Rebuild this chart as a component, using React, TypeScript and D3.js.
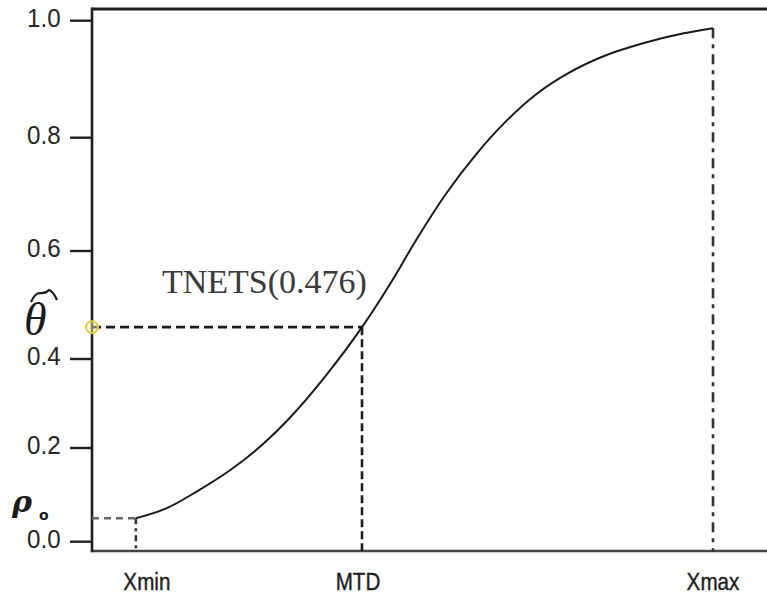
import React, { useEffect, useRef } from 'react';
import * as d3 from 'd3';

// dose axis runs 0..100 (only the marked doses are labelled)
const doseMarks = ['Xmin', 'MTD', 'Xmax'];
const doseValues = [6.5, 40, 92];
const rho0 = 0.05;
const thetaHat = 0.459;
const tnetsLabel = 'TNETS(0.476)';

const yTicks = [0.0, 0.2, 0.4, 0.6, 0.8, 1.0];
const yTickLabels = ['0.0', '0.2', '0.4', '0.6', '0.8', '1.0'];

// toxicity curve
const curveX = [6.5, 11, 15.5, 20.5, 25.5, 29, 34.5, 40, 44.5, 48, 52.5, 57, 61.5, 66, 70.5, 75.5, 81.5, 87.5, 92];
const curveY = [0.05, 0.071, 0.107, 0.153, 0.211, 0.263, 0.36, 0.459, 0.546, 0.619, 0.702, 0.772, 0.83, 0.876, 0.91, 0.938, 0.961, 0.978, 0.987];

const App = () => {
  const svgRef = useRef(null);

  useEffect(() => {
    const width = 767;
    const height = 598;
    const svg = d3.select(svgRef.current);
    svg.selectAll('*').remove();
    svg.attr('width', width).attr('height', height);

    const x = d3.scaleLinear().domain([0, 100]).range([92, 767]);
    // the printed axis is not evenly spaced, so a piecewise scale
    const y = d3.scaleLinear().domain(yTicks).range([541.7, 448, 359, 251, 137.7, 20.7]);

    const x0 = x(0);
    const yBottom = 551;
    const yTop = 9;
    const sans = 'Liberation Sans, Arial, sans-serif';

    svg.append('rect').attr('width', width).attr('height', height).attr('fill', '#fff');

    // frame
    svg.append('line').attr('x1', x0).attr('x2', width).attr('y1', yTop).attr('y2', yTop)
      .attr('stroke', '#1e1e1e').attr('stroke-width', 3);
    svg.append('line').attr('x1', x0).attr('x2', width).attr('y1', yBottom).attr('y2', yBottom)
      .attr('stroke', '#444').attr('stroke-width', 2.6);
    svg.append('line').attr('x1', x0).attr('x2', x0).attr('y1', yTop - 1.5).attr('y2', yBottom + 1.3)
      .attr('stroke', '#1e1e1e').attr('stroke-width', 2.6);

    // y ticks
    const tick = svg.append('g').selectAll('g').data(yTicks).enter().append('g');
    tick.append('line')
      .attr('x1', x0 - 22).attr('x2', x0).attr('y1', (d) => y(d)).attr('y2', (d) => y(d))
      .attr('stroke', '#222').attr('stroke-width', 2.4);
    tick.append('text')
      .attr('x', 27).attr('y', (d) => y(d) - 3).attr('dy', '0.35em')
      .attr('font-family', sans).attr('font-size', 26)
      .attr('fill', '#262626')
      .attr('transform', (d) => `translate(27,0) scale(0.93,1) translate(-27,0)`)
      .text((d, i) => yTickLabels[i]);

    const dark = '#1a1a1a';

    // theta-hat guide
    svg.append('line').attr('x1', x0).attr('x2', x(doseValues[1])).attr('y1', y(thetaHat)).attr('y2', y(thetaHat))
      .attr('stroke', dark).attr('stroke-width', 2.6).attr('stroke-dasharray', '9,5');
    svg.append('line').attr('x1', x(doseValues[1])).attr('x2', x(doseValues[1])).attr('y1', y(thetaHat)).attr('y2', yBottom)
      .attr('stroke', dark).attr('stroke-width', 2.6).attr('stroke-dasharray', '8,4');

    // rho0 / Xmin guide
    svg.append('line').attr('x1', x0).attr('x2', x(doseValues[0])).attr('y1', y(rho0)).attr('y2', y(rho0))
      .attr('stroke', '#666').attr('stroke-width', 2.6).attr('stroke-dasharray', '7,5');
    svg.append('line').attr('x1', x(doseValues[0])).attr('x2', x(doseValues[0])).attr('y1', y(rho0)).attr('y2', yBottom)
      .attr('stroke', '#333').attr('stroke-width', 2.6).attr('stroke-dasharray', '6,4,3,4');

    // Xmax guide
    const yMax = y(curveY[curveY.length - 1]);
    svg.append('line').attr('x1', x(doseValues[2])).attr('x2', x(doseValues[2])).attr('y1', yMax).attr('y2', yBottom)
      .attr('stroke', '#333').attr('stroke-width', 2.6).attr('stroke-dasharray', '10,6,4,6');

    // curve
    const pts = curveX.map((d, i) => [d, curveY[i]]);
    const line = d3.line()
      .x((d: any) => x(d[0]))
      .y((d: any) => y(d[1]))
      .curve(d3.curveMonotoneX);
    svg.append('path').attr('d', line(pts as any)).attr('fill', 'none')
      .attr('stroke', '#1a1a1a').attr('stroke-width', 2);

    // marker on the axis
    svg.append('circle').attr('cx', x0).attr('cy', y(thetaHat)).attr('r', 6)
      .attr('fill', 'rgba(255,250,170,0.45)').attr('stroke', '#e0cf45').attr('stroke-width', 2);

    // x labels
    const labelShift = [11, -4, 0];
    svg.append('g').selectAll('text').data(doseMarks).enter().append('text')
      .attr('x', (d, i) => x(doseValues[i]) + labelShift[i]).attr('y', 590)
      .attr('text-anchor', 'middle')
      .attr('font-family', sans).attr('font-size', 24)
      .attr('fill', '#1e1e1e').attr('stroke', '#1e1e1e').attr('stroke-width', 0.4)
      .attr('transform', (d, i) => {
        const cx = x(doseValues[i]) + labelShift[i];
        return `translate(${cx},0) scale(0.86,1) translate(${-cx},0)`;
      })
      .text((d) => d);

    // annotation
    svg.append('text').attr('x', 162).attr('y', 293)
      .attr('font-family', 'Liberation Serif, Times New Roman, serif').attr('font-size', 34)
      .attr('fill', '#3a3a3a').text(tnetsLabel);

    // theta-hat symbol
    svg.append('text').attr('x', 24).attr('y', 335)
      .attr('font-family', 'Liberation Serif, Times New Roman, serif').attr('font-style', 'italic')
      .attr('font-size', 46).attr('fill', '#1a1a1a').text('θ');
    svg.append('path')
      .attr('d', 'M31,302 Q35,293 40,293 Q45,294 49,290 Q53,291 57,300')
      .attr('fill', 'none').attr('stroke', '#1a1a1a').attr('stroke-width', 2.2);

    // rho_0 symbol
    svg.append('text').attr('x', 12).attr('y', 512)
      .attr('font-family', 'DejaVu Serif, serif').attr('font-style', 'italic').attr('font-weight', 'bold')
      .attr('font-size', 30).attr('fill', '#1a1a1a').text('ρ');
    svg.append('text').attr('x', 39).attr('y', 520)
      .attr('font-family', 'DejaVu Sans, sans-serif').attr('font-weight', 'bold')
      .attr('font-size', 14).attr('fill', '#1a1a1a').text('o');
  }, []);

  return (
    <svg ref={svgRef} style={{ position: 'absolute', left: 0, top: 0 }}></svg>
  );
};

export default App;
